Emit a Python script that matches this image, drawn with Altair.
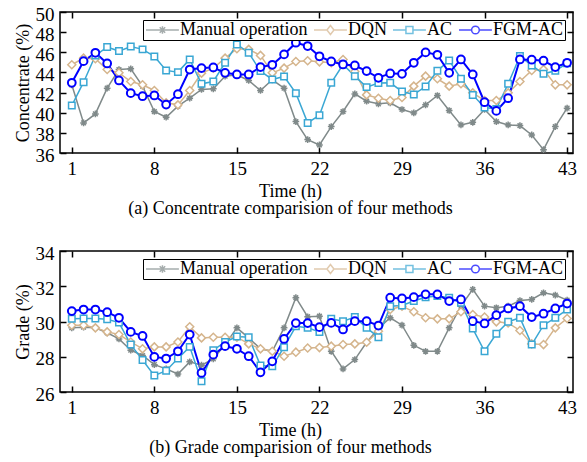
import altair as alt
import pandas as pd

hours = list(range(1, 44))
methods = ["Manual operation", "DQN", "AC", "FGM-AC"]
colors = ["#808a8a", "#d5b58d", "#3aa7d4", "#0000ff"]
x_ticks = [1, 8, 15, 22, 29, 36, 43]
conc_ticks = [36, 38, 40, 42, 44, 46, 48, 50]
grade_ticks = [26, 28, 30, 32, 34]

# Concentrate (%)
manual_c = [42.77, 38.99, 39.88, 42.44, 44.29, 44.36, 42.64, 40.12, 39.55, 40.65,
            41.44, 42.31, 42.37, 43.63, 43.76, 43.2, 42.21, 43.27, 42.44, 39.12,
            37.33, 36.8, 38.62, 40.12, 41.87, 41.14, 40.88, 40.98, 40.32, 39.98,
            40.78, 41.71, 40.22, 38.79, 39.05, 40.32, 39.12, 38.79, 38.72, 37.79,
            36.33, 38.62, 40.45]
dqn_c = [44.76, 45.42, 45.36, 44.29, 43.96, 43.1, 42.77, 42.21, 40.98, 40.78,
         42.21, 43.93, 44.43, 45.42, 46.35, 46.29, 45.69, 43.96, 44.43, 45.09,
         45.16, 45.05, 44.96, 45.29, 44.1, 41.77, 41.44, 41.21, 41.51, 42.64,
         43.63, 43.37, 42.64, 42.87, 41.97, 41.21, 41.21, 41.97, 43.1, 44.2,
         44.29, 42.77, 42.77]
ac_c = [40.71, 43.03, 45.69, 46.52, 46.12, 46.58, 46.29, 45.59, 44.2, 44.03,
        45.29, 42.87, 43.1, 44.96, 46.78, 45.95, 44.13, 43.3, 43.6, 41.94,
        38.99, 39.75, 42.97, 44.79, 43.63, 42.54, 42.94, 42.97, 42.11, 41.81,
        42.6, 44.16, 45.19, 43.37, 41.77, 40.51, 40.38, 42.87, 45.62, 44.69,
        43.86, 44.16, 44.9]
fgm_c = [42.97, 45.12, 45.95, 44.89, 43.2, 41.94, 41.64, 41.71, 40.81, 41.84,
         44.29, 44.43, 44.49, 43.96, 43.8, 43.8, 44.53, 44.76, 45.79, 46.95,
         46.62, 45.6, 45.09, 44.79, 44.69, 44.13, 43.47, 43.9, 43.86, 44.96,
         45.99, 45.75, 43.96, 45.29, 43.8, 41.04, 40.18, 41.44, 45.29, 45.26,
         45.16, 44.53, 44.96]

# Grade (%)
manual_g = [29.64, 29.68, 29.64, 29.36, 29.01, 28.37, 28.07, 27.55, 27.31, 27.02,
            27.71, 27.52, 27.88, 28.69, 29.64, 29.07, 28.45, 28.31, 29.64, 31.35,
            30.27, 30.3, 28.31, 27.31, 27.84, 28.82, 29.6, 30.21, 29.79, 28.65,
            28.31, 28.31, 29.64, 30.87, 31.82, 30.87, 30.78, 30.87, 31.19, 31.25,
            31.63, 31.5, 31.21]
dqn_g = [29.79, 29.79, 29.64, 29.41, 29.26, 28.84, 28.45, 28.56, 28.56, 28.84,
         29.7, 29.07, 29.11, 29.11, 29.11, 28.73, 28.45, 28.31, 28.03, 28.26,
         28.5, 28.52, 28.6, 28.69, 28.73, 28.82, 29.45, 30.68, 30.87, 30.55,
         30.21, 30.15, 30.15, 30.55, 30.4, 30.25, 29.98, 29.92, 29.49, 28.73,
         28.69, 29.64, 30.17]
ac_g = [30.15, 30.17, 30.17, 30.13, 29.94, 28.69, 27.82, 26.93, 27.21, 27.9,
        28.56, 26.61, 28.37, 28.84, 29.15, 29.11, 27.5, 27.46, 28.54, 29.73,
        29.64, 29.41, 30.15, 30.02, 30.25, 29.64, 29.11, 30.87, 30.91, 31.16,
        31.38, 31.44, 31.35, 31.06, 29.6, 28.31, 29.3, 29.98, 30.21, 28.69,
        29.79, 30.21, 30.68]
fgm_g = [30.59, 30.68, 30.68, 30.53, 30.21, 29.41, 29.18, 27.99, 27.9, 28.31,
         29.26, 27.08, 28.12, 28.6, 28.45, 28.03, 27.12, 27.74, 29.01, 29.91,
         29.91, 29.68, 29.92, 29.55, 30.02, 30.02, 29.77, 31.35, 31.31, 31.38,
         31.54, 31.54, 31.16, 31.25, 30.02, 29.89, 30.36, 30.74, 30.87, 30.25,
         30.44, 30.74, 31.02]

FONT = "Liberation Serif"
PLOT_W = 513

ASTERISK = "M-1,0H1M0,-1V1M-0.7,-0.7L0.7,0.7M-0.7,0.7L0.7,-0.7"
plot_shapes = [ASTERISK, "diamond", "square", "circle"]
legend_shapes = [
    "M-1,0H3.7M1.35,-0.55V0.55M0.96,-0.39L1.74,0.39M0.96,0.39L1.74,-0.39",
    "M-1,0H0.85M1.85,0H3.7M1.35,-0.65L1.85,0L1.35,0.65L0.85,0Z",
    "M-1,0H0.85M1.85,0H3.7M0.85,-0.5H1.85V0.5H0.85Z",
    "M-1,0H0.8M1.9,0H3.7M0.8,0A0.55,0.55,0,1,0,1.9,0A0.55,0.55,0,1,0,0.8,0Z",
]


def long_df(series):
    rows = []
    for m, vals in zip(methods, series):
        for h, v in zip(hours, vals):
            rows.append({"hour": h, "method": m, "value": v})
    return pd.DataFrame(rows)


def panel(df, ydomain, yticks, ytitle, caption):
    base = alt.Chart(df)
    xs = alt.Scale(domain=[0, 43.5], nice=False, zero=False)
    ys = alt.Scale(domain=ydomain, nice=False, zero=False)
    sw = alt.StrokeWidth("method:N", scale=alt.Scale(type="ordinal", domain=methods,
                                                     range=[1.5, 1.5, 1.5, 2]), legend=None)
    xaxis = alt.Axis(orient="bottom", values=x_ticks, offset=-6, tickSize=6, domain=False,
                     grid=False, labelPadding=6, title=["Time (h)", caption],
                     titleLineHeight=17, titlePadding=4, titleFontWeight="normal",
                     titleX=230)
    yaxis = alt.Axis(orient="left", values=yticks, offset=-6, tickSize=6, domain=False,
                     grid=False, labelPadding=6, labelOffset=2, title=ytitle, titlePadding=3,
                     titleFontWeight="normal")
    lines = base.mark_line().encode(
        x=alt.X("hour:Q", scale=xs, axis=xaxis),
        y=alt.Y("value:Q", scale=ys, axis=yaxis),
        color=alt.Color("method:N", scale=alt.Scale(domain=methods, range=colors), legend=None),
        strokeWidth=sw,
    )
    points = base.mark_point(filled=False, fill="white", opacity=1).encode(
        x=alt.X("hour:Q", scale=xs, axis=None),
        y=alt.Y("value:Q", scale=ys, axis=None),
        color=alt.Color("method:N", scale=alt.Scale(domain=methods, range=colors), legend=None),
        shape=alt.Shape("method:N", scale=alt.Scale(domain=methods, range=plot_shapes), legend=None),
        size=alt.Size("method:N", scale=alt.Scale(type="ordinal", domain=methods,
                                                  range=[45, 64, 42, 60]), legend=None),
        strokeWidth=sw,
    )
    leg = alt.Legend(title=None, orient="top-right", offset=8, direction="horizontal",
                     symbolSize=196, symbolStrokeWidth=1.5, labelFont=FONT, labelFontSize=18,
                     labelColor="black", labelOffset=18, columnPadding=3, padding=1,
                     strokeColor="black", fillColor="white", labelLimit=0)
    legend_layer = base.transform_filter("datum.hour < 0").mark_point(filled=False).encode(
        x=alt.X("hour:Q", scale=xs, axis=None),
        y=alt.Y("value:Q", scale=ys, axis=None),
        color=alt.Color("method:N", scale=alt.Scale(domain=methods, range=colors), legend=leg),
        shape=alt.Shape("method:N", scale=alt.Scale(domain=methods, range=legend_shapes), legend=leg),
    )
    mirror = base.mark_point(opacity=0).encode(
        x=alt.X("hour:Q", scale=xs, axis=alt.Axis(orient="top", values=x_ticks, offset=-6,
                                                   tickSize=6, labels=False, domain=False,
                                                   grid=False, title=None)),
        y=alt.Y("value:Q", scale=ys, axis=alt.Axis(orient="right", values=yticks, offset=-6,
                                                    tickSize=6, labels=False, domain=False,
                                                    grid=False, title=None)),
    )
    return alt.layer(lines, points, legend_layer, mirror).resolve_scale(
        color="independent", shape="independent"
    ).resolve_axis(x="independent", y="independent").properties(width=PLOT_W, height=141)


top = panel(long_df([manual_c, dqn_c, ac_c, fgm_c]), [36, 50], conc_ticks,
            "Concentrate (%)", "(a) Concentrate comparision of four methods")
bottom = panel(long_df([manual_g, dqn_g, ac_g, fgm_g]), [26, 34], grade_ticks,
               "Grade (%)", "(b) Grade comparision of four methods")

chart = alt.vconcat(top, bottom, spacing=25).resolve_scale(
    color="independent", shape="independent"
).resolve_legend(color="independent", shape="independent").properties(
    padding={"left": 5, "top": -4, "right": 0, "bottom": 0},
    background="white",
).configure_view(stroke="black", strokeWidth=1.5).configure_axis(
    labelFont=FONT, labelFontSize=19, labelColor="black",
    titleFont=FONT, titleFontSize=18, titleFontWeight="normal", titleColor="black",
    tickColor="black", tickWidth=1.5,
)

chart.save("out.html", embed_options={"renderer": "svg", "actions": False})
